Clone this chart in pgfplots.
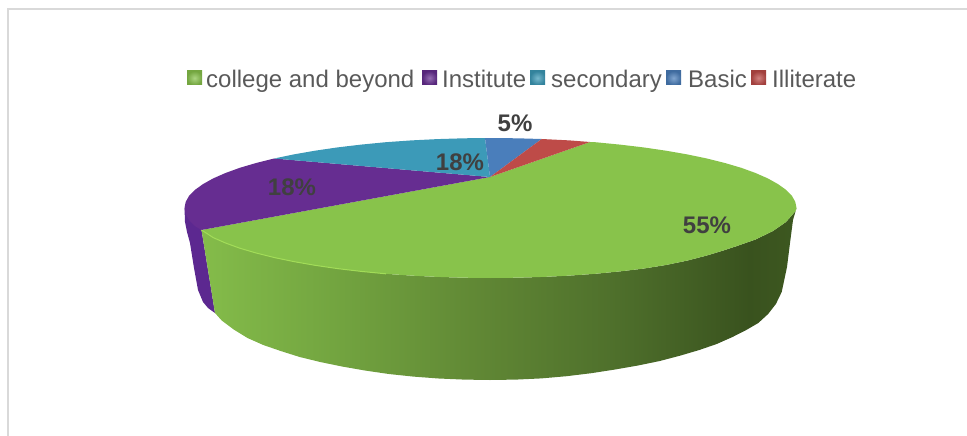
\documentclass[border=0pt]{standalone}
\usepackage{fontspec}
\setmainfont{Liberation Sans}
\usepackage{pgfplots}
\pgfplotsset{compat=1.18}

\definecolor{frame}{HTML}{D9D9D9}
\definecolor{legtext}{HTML}{595959}
\definecolor{lab}{HTML}{404040}
\definecolor{cgreen}{HTML}{88C34B}
\definecolor{cpurple}{HTML}{662D91}
\definecolor{cpurpleside}{HTML}{5C2890}
\definecolor{cteal}{HTML}{3C9AB8}
\definecolor{cblue}{HTML}{4A7EBB}
\definecolor{cred}{HTML}{BE4B48}
\definecolor{crim}{HTML}{A2DC58}

\pgfdeclarehorizontalshading{sidegreen}{100bp}{
  rgb(0bp)=(0.518,0.737,0.290);
  rgb(25bp)=(0.518,0.737,0.290);
  rgb(36bp)=(0.451,0.647,0.251);
  rgb(49bp)=(0.373,0.525,0.204);
  rgb(60bp)=(0.306,0.435,0.169);
  rgb(71bp)=(0.224,0.322,0.118);
  rgb(75bp)=(0.239,0.345,0.125);
  rgb(100bp)=(0.239,0.345,0.125)}

\begin{document}
\begin{tikzpicture}
\begin{axis}[
    scale only axis,
    width=967bp,
    height=436bp,
    xmin=0, xmax=967,
    ymin=0, ymax=436,
    y dir=reverse,
    hide axis,
]

% keeps the whole canvas in the picture
\path (axis cs:0,0) rectangle (axis cs:967,436);

% frame of the chart area
\addplot[color=frame, line width=2bp] coordinates {(8.3,436) (8.3,9.3) (967,9.3)};

% sides
\addplot[draw=none, fill=cpurpleside] coordinates {
    (184.5,208) (185,222) (187,232) (190,243) (194,268) (198,290) (203,302) (208,308) (215,313) (201.5,230)
    } --cycle;
\addplot[draw=none, shade, shading=sidegreen] coordinates {
    (201.5,230) (215,313) (221.7,320.5) (233.7,329.5) (247.5,338) (263.3,345) (280.7,351) (299.7,357) (320.2,362)
    (342,366.5) (364.9,370.5) (388.8,374) (413.4,376.6) (438.6,378.5) (464.2,379.6) (490,380) (515.8,379.6)
    (541.4,378.4) (566.6,376.2) (591.2,373.2) (615.1,369.5) (638,365.5) (659.8,361) (680.3,355.6) (699.3,350)
    (716.7,344) (732.5,337) (746.3,330) (758.3,323) (768.1,314) (775.9,304) (781.7,292) (787,267) (790,243)
    (793,220) (796.5,208) (795.5,211) (793,214) (786,222) (773,231) (755.5,239.5) (737,246) (724.9,250) (706.9,255.5)
    (687.2,260.6) (666,265) (643.5,268.6) (619.8,271.4)
    (595.2,273.8) (569.7,275.6) (543.6,276.9) (517.2,277.7) (490.5,278) (463.8,277.7) (437.4,276.9) (411.3,275.6)
    (385.8,273.8) (361.2,271.4) (337.5,268.6) (315,265.3) (293.8,261.6) (274.1,257.5) (256.1,253) (239.8,248.2)
    (225.5,243) (213.2,237.6)
    } --cycle;

% top face, slices from the centre
\addplot[draw=none, fill=cgreen] coordinates {
    (490,177) (590,142) (595.2,142.2) (619.8,144.6) (643.5,147.4) (666,150.7) (687.2,154.4) (706.9,158.5)
    (724.9,163) (741.2,167.8) (755.5,173) (767.8,178.4) (778,184.1) (786.1,189.9) (791.9,195.8) (795.3,201.9)
    (796.5,208) (795.5,211) (793,214) (786,222) (773,231) (755.5,239.5) (737,246) (724.9,250) (706.9,255.5)
    (687.2,260.6) (666,265) (643.5,268.6) (619.8,271.4) (595.2,273.8) (569.7,275.6)
    (543.6,276.9) (517.2,277.7) (490.5,278) (463.8,277.7) (437.4,276.9) (411.3,275.6) (385.8,273.8) (361.2,271.4)
    (337.5,268.6) (315,265.3) (293.8,261.6) (274.1,257.5) (256.1,253) (239.8,248.2) (225.5,243) (213.2,237.6)
    (201.5,230)
    } --cycle;
\addplot[draw=none, fill=cpurple] coordinates {
    (490,177) (201.5,230) (194.9,226.1) (189.1,220.2) (185.7,214.1) (184.5,208) (185.7,201.9) (189.1,195.8)
    (194.9,189.9) (203,184.1) (213.2,178.4) (225.5,173) (239.8,167.8) (256.1,163) (274.1,158.5)
    } --cycle;
\addplot[draw=none, fill=cteal] coordinates {
    (490,177) (274.1,158.5) (293.8,154.4) (315,150.7) (337.5,147.4) (361.2,144.6) (385.8,142.2) (411.3,140.4)
    (437.4,139.1) (463.8,138.3) (485,138)
    } --cycle;
\addplot[draw=none, fill=cblue] coordinates {
    (490,177) (485,138) (490.5,138) (517.2,138.3) (541.7,139)
    } --cycle;
\addplot[draw=none, fill=cred] coordinates {
    (490,177) (541.7,139) (543.6,139.1) (569.7,140.4) (590,142)
    } --cycle;

% light rim on the front left of the top face
\addplot[color=crim, line width=1bp] coordinates {
    (201.5,230) (213.2,237.6) (225.5,243) (239.8,248.2) (256.1,253) (274.1,257.5) (293.8,261.6) (315,265.3)
    (337.5,268.6) (361.2,271.4) (385.8,273.8)
    };

% legend keys
\addplot[draw=none, shade, inner color=cgreen!70!white, outer color=cgreen!85!black] coordinates {(187,71) (202,71) (202,85) (187,85)} --cycle;
\addplot[draw=none, shade, inner color=cpurple!70!white, outer color=cpurple!85!black] coordinates {(422,71) (437,71) (437,85) (422,85)} --cycle;
\addplot[draw=none, shade, inner color=cteal!70!white, outer color=cteal!85!black] coordinates {(530,71) (545,71) (545,85) (530,85)} --cycle;
\addplot[draw=none, shade, inner color=cblue!70!white, outer color=cblue!85!black] coordinates {(666,71) (681,71) (681,85) (666,85)} --cycle;
\addplot[draw=none, shade, inner color=cred!70!white, outer color=cred!85!black] coordinates {(751,71) (766,71) (766,85) (751,85)} --cycle;

\begin{scope}[every node/.style={inner sep=0pt, text=legtext, font=\fontsize{24bp}{28bp}\selectfont, anchor=base west}]
\node at (axis cs:206,87.5) {college and beyond};
\node at (axis cs:442,87.5) {Institute};
\node at (axis cs:551,87.5) {secondary};
\node at (axis cs:688,87.5) {Basic};
\node at (axis cs:772,87.5) {Illiterate};
\end{scope}

\begin{scope}[every node/.style={inner sep=0pt, text=lab, font=\fontsize{24bp}{28bp}\selectfont\bfseries}]
\node at (axis cs:707,225) {55\%};
\node at (axis cs:292,187) {18\%};
\node at (axis cs:460,162) {18\%};
\node at (axis cs:515,123) {5\%};
\end{scope}

\end{axis}
\end{tikzpicture}
\end{document}
